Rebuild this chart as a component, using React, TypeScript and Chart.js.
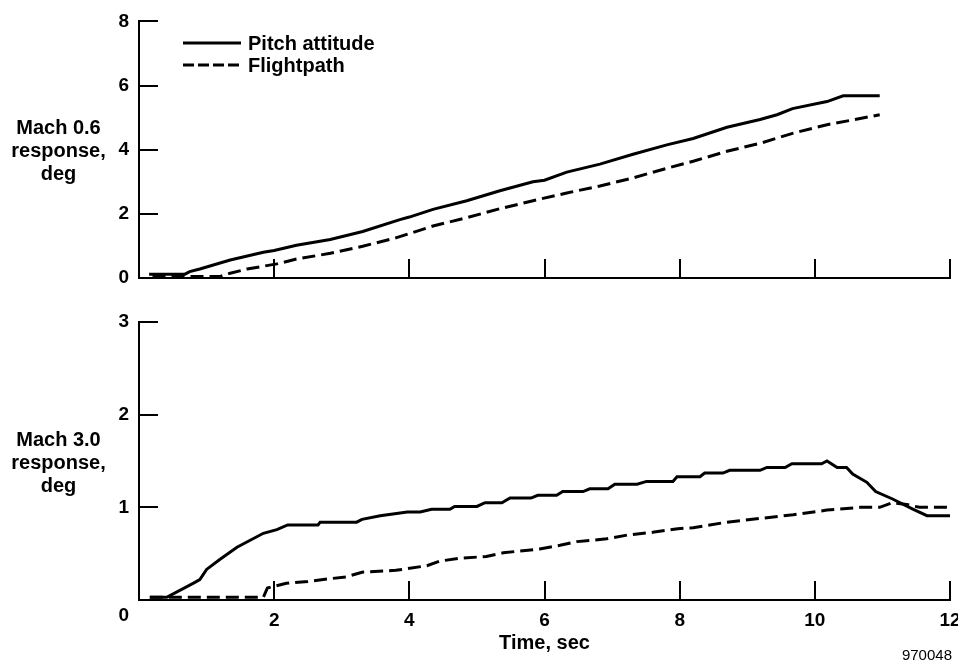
import React, { useEffect, useRef } from 'react';
import { Chart, registerables } from 'chart.js';

Chart.register(...registerables);

const FONT = '"Liberation Sans", Arial, Helvetica, sans-serif';

// ---- data ----
const seriesNames = ['Pitch attitude', 'Flightpath'];
const xTitle = 'Time, sec';
const topYTitle = ['Mach 0.6', 'response,', 'deg'];
const bottomYTitle = ['Mach 3.0', 'response,', 'deg'];
const figureId = '970048';
const xTickStep = 2;
const xMax = 12;
const topYMax = 8;
const topYStep = 2;
const bottomYMax = 3;
const bottomYStep = 1;

const topPitchT = [0.15, 0.68, 0.75, 0.9, 1.35, 1.84, 2.0, 2.33, 2.83, 3.31, 3.86, 4.0, 4.35, 4.85, 5.34, 5.83, 6.0, 6.33, 6.82, 7.31, 7.81, 8.2, 8.7, 9.19, 9.44, 9.67, 10.18, 10.42, 10.96];
const topPitchV = [0.12, 0.12, 0.2, 0.28, 0.56, 0.8, 0.86, 1.02, 1.2, 1.45, 1.82, 1.9, 2.14, 2.41, 2.72, 3.0, 3.05, 3.3, 3.55, 3.86, 4.15, 4.35, 4.7, 4.94, 5.09, 5.28, 5.5, 5.68, 5.68];

const topFlightT = [0.2, 1.2, 1.35, 1.6, 2.04, 2.33, 2.83, 3.31, 3.8, 4.35, 4.85, 5.34, 5.83, 6.33, 6.82, 7.31, 7.81, 8.2, 8.7, 9.19, 9.67, 10.18, 10.67, 10.96];
const topFlightV = [0.05, 0.05, 0.15, 0.28, 0.44, 0.59, 0.77, 0.99, 1.25, 1.62, 1.88, 2.16, 2.41, 2.65, 2.87, 3.12, 3.42, 3.64, 3.95, 4.2, 4.51, 4.78, 4.97, 5.09];

const botPitchT = [0.16, 0.41, 0.8, 0.9, 1.0, 1.2, 1.45, 1.84, 2.04, 2.2, 2.65, 2.68, 3.22, 3.3, 3.57, 3.97, 4.16, 4.33, 4.6, 4.67, 5.0, 5.12, 5.37, 5.49, 5.8, 5.9, 6.18, 6.27, 6.57, 6.67, 6.94, 7.04, 7.37, 7.51, 7.9, 7.96, 8.3, 8.37, 8.64, 8.74, 9.19, 9.29, 9.56, 9.66, 10.1, 10.18, 10.33, 10.47, 10.56, 10.77, 10.9, 11.15, 11.45, 11.66, 12.0];
const botPitchV = [0.03, 0.03, 0.18, 0.22, 0.33, 0.44, 0.57, 0.72, 0.76, 0.81, 0.81, 0.84, 0.84, 0.87, 0.91, 0.95, 0.95, 0.98, 0.98, 1.01, 1.01, 1.05, 1.05, 1.1, 1.1, 1.13, 1.13, 1.17, 1.17, 1.2, 1.2, 1.25, 1.25, 1.28, 1.28, 1.33, 1.33, 1.37, 1.37, 1.4, 1.4, 1.43, 1.43, 1.47, 1.47, 1.5, 1.43, 1.43, 1.36, 1.27, 1.17, 1.09, 0.98, 0.91, 0.91];

const botFlightT = [0.16, 1.84, 1.9, 2.18, 2.5, 2.83, 3.07, 3.3, 3.8, 4.26, 4.45, 4.75, 5.14, 5.39, 5.93, 6.23, 6.48, 6.92, 7.22, 7.6, 7.97, 8.2, 8.7, 9.19, 9.68, 10.18, 10.67, 10.96, 11.15, 11.36, 11.55, 12.0];
const botFlightV = [0.03, 0.03, 0.13, 0.18, 0.2, 0.23, 0.25, 0.3, 0.32, 0.37, 0.42, 0.45, 0.47, 0.51, 0.55, 0.59, 0.63, 0.66, 0.7, 0.73, 0.77, 0.78, 0.84, 0.88, 0.92, 0.97, 1.0, 1.0, 1.05, 1.03, 1.0, 1.0];

// ---- helpers ----
const pts = (t: number[], v: number[]) => t.map((x, i) => ({ x, y: v[i] }));

const makeDatasets = (pT: number[], pV: number[], fT: number[], fV: number[]) => [
  {
    label: seriesNames[0],
    data: pts(pT, pV),
    borderColor: '#000',
    borderWidth: 3,
    pointRadius: 0,
    fill: false,
    tension: 0,
  },
  {
    label: seriesNames[1],
    data: pts(fT, fV),
    borderColor: '#000',
    borderWidth: 3,
    borderDash: [13, 6],
    pointRadius: 0,
    fill: false,
    tension: 0,
  },
];

const tickFont = { family: FONT, size: 19, weight: 'bold' as const };
const textFont = { family: FONT, size: 20, weight: 'bold' as const };

const inwardTicks = {
  id: 'inwardTicks',
  beforeDatasetsDraw(chart: any) {
    const { ctx, chartArea, scales } = chart;
    const { left, bottom } = chartArea;
    ctx.save();
    ctx.strokeStyle = '#000';
    ctx.lineWidth = 2;
    ctx.beginPath();
    scales.y.ticks.forEach((t: any) => {
      if (t.value === 0) return;
      const py = Math.round(scales.y.getPixelForValue(t.value));
      ctx.moveTo(left, py);
      ctx.lineTo(left + 19, py);
    });
    scales.x.ticks.forEach((t: any) => {
      if (t.value === 0) return;
      const px = Math.round(scales.x.getPixelForValue(t.value));
      ctx.moveTo(px, bottom);
      ctx.lineTo(px, bottom - 19);
    });
    ctx.stroke();
    ctx.restore();
  },
};

const legendPlugin = {
  id: 'customLegend',
  afterDraw(chart: any) {
    const { ctx } = chart;
    chart.data.datasets.forEach((ds: any, i: number) => {
      const y = 43 + 22 * i;
      ctx.save();
      ctx.strokeStyle = ds.borderColor;
      ctx.lineWidth = ds.borderWidth;
      ctx.setLineDash(ds.borderDash ? [11, 4] : []);
      ctx.beginPath();
      ctx.moveTo(183, y);
      ctx.lineTo(241, y);
      ctx.stroke();
      ctx.setLineDash([]);
      ctx.fillStyle = '#000';
      ctx.font = `bold 20px ${FONT}`;
      ctx.textBaseline = 'middle';
      ctx.textAlign = 'left';
      ctx.fillText(ds.label, 248, y + 1);
      ctx.restore();
    });
  },
};

const originLabel = {
  id: 'originLabel',
  afterDraw(chart: any) {
    const { ctx, chartArea } = chart;
    ctx.save();
    ctx.fillStyle = '#000';
    ctx.font = `bold 19px ${FONT}`;
    ctx.textBaseline = 'middle';
    ctx.textAlign = 'right';
    ctx.fillText('0', chartArea.left - 10, chartArea.bottom + 16);
    ctx.restore();
  },
};

function makeOptions(yMax: number, yStep: number, bottom: boolean, xHeight: number, topPad: number) {
  return {
    responsive: false,
    animation: false as const,
    layout: { padding: { left: 0, right: 8, top: topPad, bottom: 0 } },
    plugins: {
      legend: { display: false },
      tooltip: { enabled: false },
    },
    scales: {
      x: {
        type: 'linear' as const,
        min: 0,
        max: xMax,
        ticks: {
          stepSize: xTickStep,
          display: bottom,
          font: tickFont,
          color: '#000',
          padding: 9,
          maxRotation: 0,
          autoSkip: false,
          callback: (v: any) => (v === 0 ? '' : String(v)),
        },
        grid: { display: false, drawTicks: false },
        border: { display: true, color: '#000', width: 2 },
        title: {
          display: bottom,
          text: xTitle,
          font: textFont,
          color: '#000',
          padding: { top: 0, bottom: 8 },
        },
        afterFit: (s: any) => {
          s.height = xHeight;
          s.paddingRight = 0;
          s.paddingLeft = 0;
        },
      },
      y: {
        type: 'linear' as const,
        min: 0,
        max: yMax,
        ticks: {
          stepSize: yStep,
          font: tickFont,
          color: '#000',
          padding: 10,
          callback: (v: any) => (bottom && v === 0 ? '' : String(v)),
        },
        grid: { display: false, drawTicks: false },
        border: { display: true, color: '#000', width: 2 },
        afterFit: (s: any) => {
          s.width = 139;
        },
      },
    },
  };
}

const titleStyle = (top: number): React.CSSProperties => ({
  position: 'absolute',
  left: 0,
  top,
  width: 117,
  textAlign: 'center',
  font: `bold 20px ${FONT}`,
  lineHeight: '23px',
  color: '#000',
  whiteSpace: 'nowrap',
});

export default function App() {
  const topRef = useRef<HTMLCanvasElement | null>(null);
  const botRef = useRef<HTMLCanvasElement | null>(null);

  useEffect(() => {
    const c1 = new Chart(topRef.current as HTMLCanvasElement, {
      type: 'line',
      data: { datasets: makeDatasets(topPitchT, topPitchV, topFlightT, topFlightV) as any },
      options: makeOptions(topYMax, topYStep, false, 22, 19) as any,
      plugins: [inwardTicks, legendPlugin],
    });
    const c2 = new Chart(botRef.current as HTMLCanvasElement, {
      type: 'line',
      data: { datasets: makeDatasets(botPitchT, botPitchV, botFlightT, botFlightV) as any },
      options: makeOptions(bottomYMax, bottomYStep, true, 63, 22) as any,
      plugins: [inwardTicks, originLabel],
    });
    return () => {
      c1.destroy();
      c2.destroy();
    };
  }, []);

  return (
    <div style={{ position: 'absolute', left: 0, top: 0, width: 958, height: 663, background: '#fff', overflow: 'hidden' }}>
      <canvas ref={topRef} width={958} height={300} style={{ position: 'absolute', left: 0, top: 0, display: 'block' }} />
      <canvas ref={botRef} width={958} height={363} style={{ position: 'absolute', left: 0, top: 300, display: 'block' }} />
      <div style={titleStyle(116)}>
        {topYTitle.map((l) => (
          <div key={l}>{l}</div>
        ))}
      </div>
      <div style={titleStyle(428)}>
        {bottomYTitle.map((l) => (
          <div key={l}>{l}</div>
        ))}
      </div>
      <div
        style={{
          position: 'absolute',
          right: 6,
          top: 646,
          font: `15px ${FONT}`,
          lineHeight: '18px',
          color: '#000',
        }}
      >
        {figureId}
      </div>
    </div>
  );
}
